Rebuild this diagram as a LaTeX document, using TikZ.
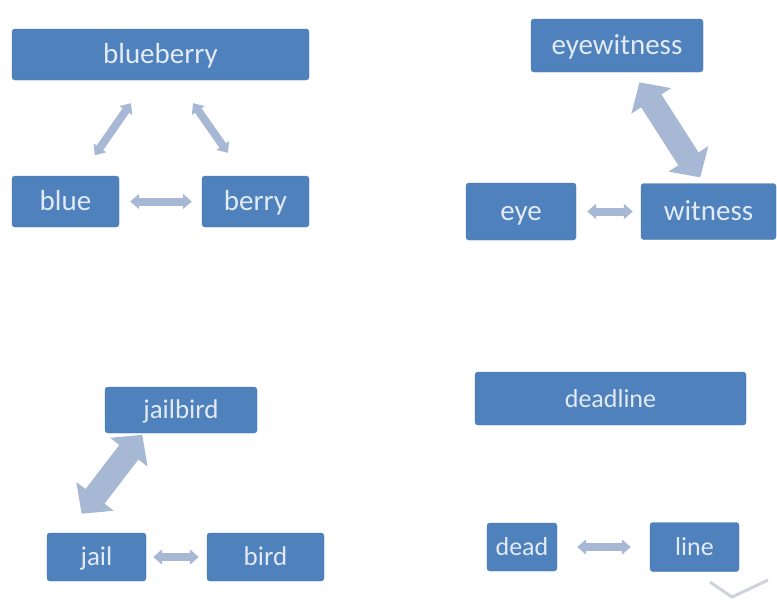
\documentclass[tikz,border=0pt]{standalone}
\usepackage{fontspec}
\setmainfont{Carlito}
\usetikzlibrary{arrows.meta}

\definecolor{boxblue}{HTML}{4F81BD}
\definecolor{boxtext}{HTML}{E2EAF5}
\definecolor{linkblue}{HTML}{A7B8D5}
\definecolor{chevgrey}{HTML}{CDD2DC}

\begin{document}
\begin{tikzpicture}[x=1pt, y=-1pt,% un pixel = un punt
	word/.style={fill=boxblue, draw=boxblue!92!black, rounded corners=3pt, text=boxtext,
		inner sep=0pt, text height=22pt, text depth=5pt, font=\fontsize{#1}{#1}\selectfont},
	word/.default=29,
	link/.style={draw=linkblue, line width=8pt,
		{Triangle[width=15pt,length=9pt]}-{Triangle[width=15pt,length=9pt]}},
	fatlink/.style={draw=linkblue, line width=24pt,
		{Triangle[width=46pt,length=22pt]}-{Triangle[width=46pt,length=22pt]}},
	chevron/.style={draw=chevgrey, line width=3pt}]

\useasboundingbox (0,0) rectangle (777,603);

% blueberry
\begin{scope}
\node [word, minimum width=297pt, minimum height=51pt] (blueberry)	at (160.5,54.5)	{blueberry};
\node [word, minimum width=107pt, minimum height=51pt] (blue)		at (65.5,201.5)	{blue};
\node [word, minimum width=107pt, minimum height=51pt] (berry)		at (255.5,201.5)	{berry};
\end{scope}
%%%%%%%%%%%%%%%%%%%%%%%%%%%%%%%%%%%%%%%%%%%%%%%%%%%%%%%%%%%%%%%%%%%%%%%%%%%%%%%%%%%%%%%%%%%%%%%%
% eyewitness
\begin{scope}
\node [word, minimum width=172pt, minimum height=53pt] (eyewitness)	at (617,45.5)	{eyewitness};
\node [word, minimum width=110pt, minimum height=57pt] (eye)		at (521,211.5)	{eye};
\node [word, minimum width=135pt, minimum height=56pt] (witness)	at (708.5,211.5)	{witness};
\end{scope}
%%%%%%%%%%%%%%%%%%%%%%%%%%%%%%%%%%%%%%%%%%%%%%%%%%%%%%%%%%%%%%%%%%%%%%%%%%%%%%%%%%%%%%%%%%%%%%%%
% jailbird
\begin{scope}
\node [word=27, minimum width=152pt, minimum height=46pt] (jailbird)	at (181,410)	{jailbird};
\node [word=27, minimum width=99pt, minimum height=48pt] (jail)		at (96.5,557)	{jail};
\node [word=27, minimum width=117pt, minimum height=48pt] (bird)		at (265.5,557)	{bird};
\end{scope}
%%%%%%%%%%%%%%%%%%%%%%%%%%%%%%%%%%%%%%%%%%%%%%%%%%%%%%%%%%%%%%%%%%%%%%%%%%%%%%%%%%%%%%%%%%%%%%%%
% deadline
\begin{scope}
\node [word=26, minimum width=271pt, minimum height=53pt] (deadline)	at (610.5,398.5)	{deadline};
\node [word=26, minimum width=70pt, minimum height=48pt] (dead)		at (522,547)	{dead};
\node [word=26, minimum width=89pt, minimum height=49pt] (line)		at (694.5,547)	{line};
\end{scope}

%%%%%%%%%%%%%%%%%%%%%%%%%%%%%%%%%%%%%%%%%%%%%%%%%%%%%%%%%%%%%%%%%%%%%%%%%%%%%%%%%%%%%%%%%%%%%%%%
% Fletxes
%%%%%%%%%%%%%%%%%%%%%%%%%%%%%%%%%%%%%%%%%%%%%%%%%%%%%%%%%%%%%%%%%%%%%%%%%%%%%%%%%%%%%%%%%%%%%%%%
\draw [link, shorten <=11pt, shorten >=10pt]	(blue) -- (berry);
\draw [link, shorten <=28pt, shorten >=25pt]	([xshift=-13.5pt]blueberry.south) -- ([xshift=15pt]blue.north);
\draw [link, shorten <=28pt, shorten >=28pt]	([xshift=16.5pt]blueberry.south) -- ([xshift=-11.5pt]berry.north);

\draw [link, shorten <=11pt, shorten >=8pt]	(eye) -- (witness);
\draw [fatlink, shorten <=12pt, shorten >=7pt]	([xshift=16pt]eyewitness.south) -- ([xshift=-4.5pt]witness.north);

\draw [link, shorten <=7pt, shorten >=8pt]	(jail) -- (bird);
\draw [fatlink, shorten <=2pt, shorten >=24pt]	([xshift=-37.5pt]jailbird.south) -- ([xshift=-29.5pt]jail.north);

\draw [link, shorten <=20pt, shorten >=19pt]	(dead) -- (line);

% la marca de baix
\draw [chevron] (710,582) -- (732,597) -- (768,580);

\end{tikzpicture}
\end{document}
